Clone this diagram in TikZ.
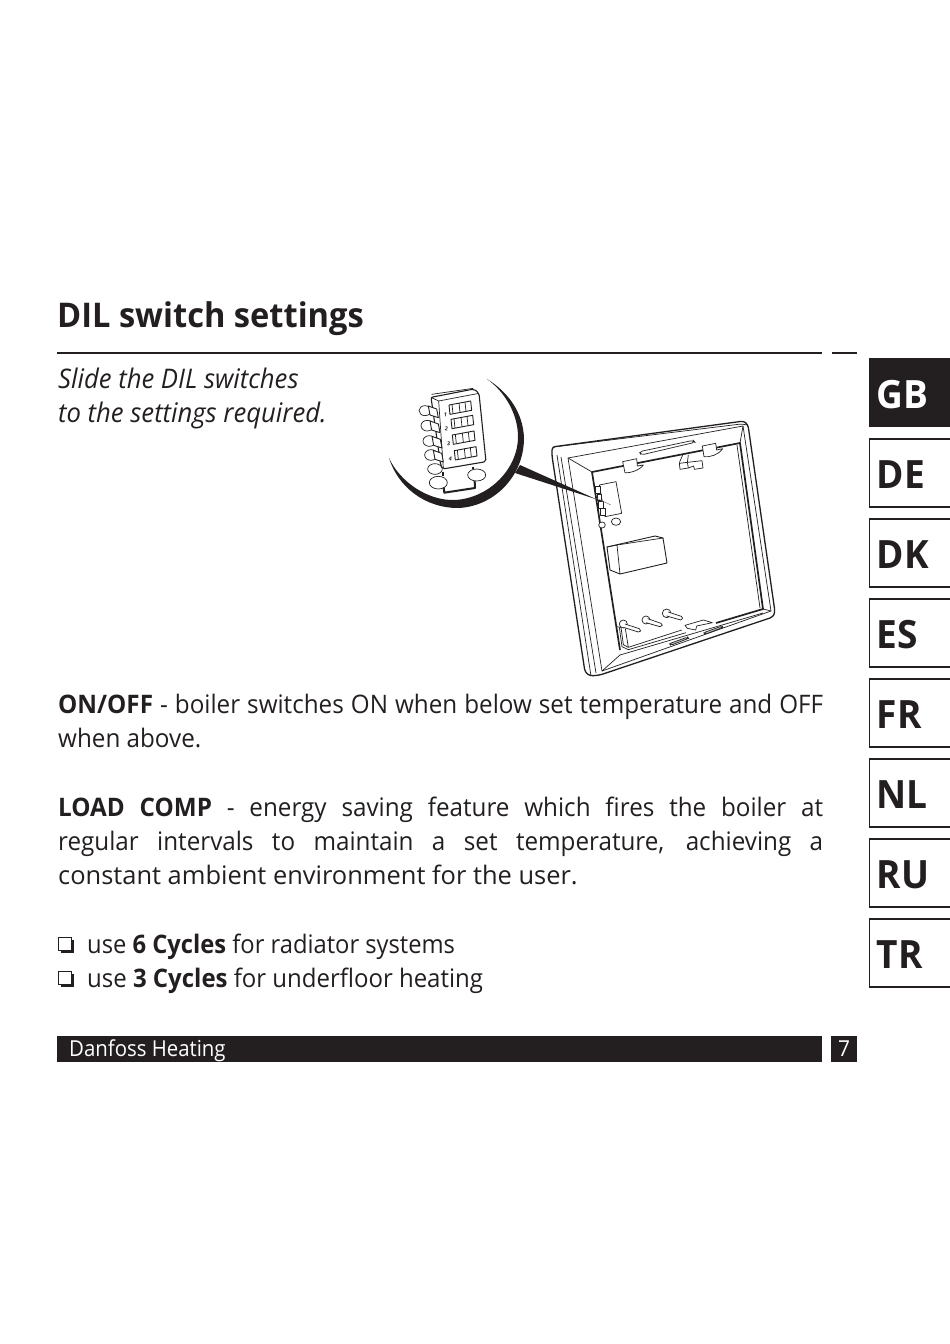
\documentclass[tikz,border=0pt]{standalone}
\usepackage{fontspec}
\usepackage{graphicx}
\setmainfont{Open Sans}[FakeStretch=0.95]
\definecolor{ink}{HTML}{231F20}
\newcommand{\bodyf}{\fontsize{25.5}{30}\selectfont}
\newcommand{\italf}{\fontsize{27}{30}\selectfont\itshape}
\newcommand{\titlef}{\fontsize{34}{38}\selectfont\bfseries}
\newcommand{\tabf}{\fontsize{39}{42}\selectfont\bfseries}
\tikzset{
 txt/.style={anchor=base west,inner sep=0pt,text=ink,font=\bodyf},
 tabtxt/.style={anchor=base west,inner sep=0pt,text=ink,font=\tabf},
 tabbox/.style={draw=ink,line width=1.6pt},
 thinl/.style={draw=ink,line width=0.7pt,line join=round},
 medl/.style={draw=ink,line width=1.3pt,line join=round},
 boldl/.style={draw=ink,line width=1.7pt,line join=round},
 kn/.style={thinl,fill=white}
}
\newcommand{\jline}[1]{\makebox[765pt][s]{#1}}
\newcommand{\chk}[2]{%
 \fill[ink] (#1+2.5,#2+2.5) rectangle (#1+15.5,#2+15.5);
 \filldraw[fill=white,draw=ink,line width=1pt] (#1,#2) rectangle (#1+13,#2+13);}
\newcommand{\langtab}[3]{%
 \draw[tabbox] (950,#1) -- (869.5,#1) -- (869.5,#1+68) -- (950,#1+68);
 \node[tabtxt] (#2) at (876.5,#1+49) {#3};}
\begin{document}
\begin{tikzpicture}[x=1pt,y=-1pt]
\useasboundingbox (0,0) rectangle (950,1344);
\fill[white] (0,0) rectangle (950,1344);
% heading
\node[txt,font=\titlef] (title) at (57,327) {\scalebox{1.01}[1]{DIL switch settings}};
\draw[ink,line width=2pt] (57,352.5) -- (822,352.5);
\draw[ink,line width=2pt] (832,352.5) -- (857,352.5);
\node[txt,font=\italf] (s1) at (58,388) {Slide the DIL switches};
\node[txt,font=\italf] (s2) at (58,422) {to the settings required.};
% body
\node[txt] (p1) at (58,713.5) {\jline{\textbf{ON/OFF} - boiler switches ON when below set temperature and OFF}};
\node[txt] (p2) at (58,747.5) {when above.};
\node[txt] (p3) at (58,816.5) {\jline{\textbf{LOAD COMP} - energy saving feature which fires the boiler at}};
\node[txt] (p4) at (58,850.5) {\jline{regular intervals to maintain a set temperature, achieving a}};
\node[txt] (p5) at (58,884.5) {\scalebox{1.05}[1]{constant ambient environment for the user.}};
\chk{58}{937}
\node[txt] (u1) at (87,953.5) {\scalebox{.98}[1]{use \textbf{6 Cycles} for radiator systems}};
\chk{58}{971}
\node[txt] (u2) at (87,987.5) {\scalebox{.99}[1]{use \textbf{3 Cycles} for underfloor heating}};
% footer
\fill[ink] (57,1036) rectangle (822,1061.5);
\fill[ink] (831,1036) rectangle (857,1061.5);
\node[txt,text=white,font=\fontsize{22}{26}\selectfont] (foot) at (69,1056) {\scalebox{.975}[1]{Danfoss Heating}};
\node[txt,text=white,font=\fontsize{22}{26}\selectfont] (pg) at (838,1056) {7};
% language tabs
\fill[ink] (869,358) rectangle (950,427);
\node[tabtxt,text=white] (gb) at (876.5,408) {GB};
\langtab{439}{de}{DE}
\langtab{519}{dk}{DK}
\langtab{599}{es}{ES}
\langtab{679}{fr}{FR}
\langtab{759}{nl}{NL}
\langtab{839}{ru}{RU}
\langtab{919}{tr}{TR}
% ---------- device
\draw[medl,rounded corners=3pt] (552,447) -- (552,456) -- (585,672) -- (590,676) -- (600,675) -- (773,617) -- (775,612) -- (748,425) -- (744,421) -- cycle;
\draw[thinl] (557,455) -- (591,676);
\draw[thinl] (561,457) -- (596,673);
\draw[thinl,rounded corners=2pt] (553,447) -- (741,424) -- (748,425);
\draw[thinl] (568,458) -- (743,426) -- (771,611) -- (602,671) -- cycle;
% inner opening
\draw[boldl] (592,472) -- (740,443) -- (763,609) -- (716,623);
\draw[boldl] (592,472) -- (620,650);
\draw[thinl] (737,445) -- (760,608);
\draw[thinl] (568,458) -- (592,472);
\draw[thinl] (743,426) -- (740,443);
\draw[thinl] (771,611) -- (763,609);
\draw[thinl] (602,671) -- (620,655);
\draw[thinl] (620,655) -- (763,613);
\begin{scope}[shift={(540,410)},scale=1/3]
 \draw[thinl,rounded corners=3pt] (298,125) -- (460,91) -- (465,97) -- (303,135) -- cycle;
 \draw[kn] (248,155) -- (290,146) -- (292,168) -- (310,165) .. controls (300,180) and (270,190) .. (255,188) -- cycle;
 \draw[kn] (487,108) -- (527,100) -- (530,120) -- (548,116) .. controls (535,135) and (510,142) .. (492,140) -- cycle;
 \draw[thinl] (418,158) -- (428,135) (442,158) -- (445,135);
 \draw[kn] (420,178) -- (418,160) -- (442,157) -- (486,152) -- (489,174) -- (463,178) -- (461,168) -- (445,174) -- cycle;
 \draw[thinl] (442,157) -- (445,174);
 \draw[thinl] (178,225) -- (228,215) -- (245,310) -- (195,320) -- cycle;
 \foreach \i in {0,1,2,3}{\draw[kn,line width=.5pt] (166+\i*5,230+\i*22) rectangle ++(14,20);}
 \draw[kn] (186,345) ellipse (10 and 9);
 \draw[kn] (228,335) ellipse (14 and 11);
\end{scope}
% relay
\draw[kn,line width=0.9pt] (607,547) -- (655,536) -- (663,538) -- (667,563) -- (620,574) -- (610,570) -- cycle;
\draw[thinl] (607,547) -- (617,545) -- (663,538) (617,545) -- (620,574);
\begin{scope}[shift={(560,550)},scale=1/3]
 \draw[kn] (190,222) circle (12);
 \draw[kn] (195,222) -- (238,236) -- (242,243) -- (235,246) -- (190,232);
 \draw[kn] (258,210) circle (12);
 \draw[kn] (263,206) -- (303,220) -- (307,226) -- (300,230) -- (258,218);
 \draw[kn] (320,190) circle (13);
 \draw[kn] (325,186) -- (364,199) -- (368,205) -- (362,210) -- (320,198);
 \draw[thinl] (170,230) -- (183,232) -- (190,284) -- (205,292) -- (365,240);
 \draw[thinl] (178,232) -- (186,290) -- (205,299) -- (378,248);
 \draw[thinl] (205,292) -- (196,236);
 \draw[kn] (375,226) -- (430,210) -- (457,218) -- (410,228) -- (407,240) -- (382,235) -- cycle;
 \draw[thinl,fill=black!25,rounded corners=2pt] (328,281) -- (383,261) -- (386,265) -- (332,286) -- cycle;
 \draw[thinl,fill=black!25,rounded corners=2pt] (431,248) -- (486,228) -- (489,232) -- (435,253) -- cycle;
\end{scope}
% ---------- magnifier
\fill[ink] (487,379) .. controls (508,392) and (523,412) .. (524,438) .. controls (524,478) and (492,507) .. (458,508) .. controls (425,508) and (398,487) .. (389,458) .. controls (400,482) and (428,501) .. (455,500) .. controls (490,498) and (518,468) .. (518,437) .. controls (518,414) and (505,392) .. (487,379) -- cycle;
\fill[ink] (520,465) -- (515,473) -- (597,499.5) -- cycle;
\draw[ink!70,line width=.4pt] (596,498) -- (611,505);
\begin{scope}[shift={(380,365)},scale=1/3]
 \foreach \cx/\cy/\rx/\ry in {135/137/18/15,142/182/19/16,148/228/19/16,153/270/19/16,165/312/22/16,175/353/27/19,290/330/27/18}{
  \draw[kn] (\cx,\cy) ellipse (\rx pt and \ry pt);}
 \draw[thinl] (155,88) -- (280,70);
 \draw[kn,line width=1.1pt,rounded corners=2pt] (153,97) -- (282,72) -- (297,85) -- (318,290) -- (188,312) -- (182,300) -- cycle;
 \draw[thinl] (176,108) -- (297,85) (176,108) -- (190,310);
 \draw[thinl] (153,97) -- (176,108);
 \foreach \dx/\dy in {0/0,5/45,11/91,15/133}{
  \draw[kn,line width=.9pt] (145+\dx,123+\dy) -- (170+\dx,132+\dy) -- (175+\dx,158+\dy) -- (150+\dx,150+\dy) -- cycle;}
 \foreach \x/\y in {207/120,213/163,217/210,223/257}{
  \begin{scope}[shift={(\x,\y)}]
   \draw[thinl,line width=.9pt] (0,0) -- (65,-12) -- (68,16) -- (3,28) -- cycle;
   \draw[thinl] (9,-2) -- (12,26) (30,-6) -- (33,22) (48,-9) -- (51,19);
  \end{scope}}
 \node[inner sep=0,text=ink,font=\fontsize{5.5}{6}\selectfont\bfseries,rotate=-10] (n1) at (196,150) {1};
 \node[inner sep=0,text=ink,font=\fontsize{5.5}{6}\selectfont\bfseries,rotate=-10] (n2) at (199,190) {2};
 \node[inner sep=0,text=ink,font=\fontsize{5.5}{6}\selectfont\bfseries,rotate=-10] (n3) at (206,235) {3};
 \node[inner sep=0,text=ink,font=\fontsize{5.5}{6}\selectfont\bfseries,rotate=-10] (n4) at (211,281) {4};
 \draw[ink,line width=1.8pt] (190,322) -- (190,332);
 \draw[ink,line width=1.8pt] (280,305) -- (280,312);
 \draw[ink,line width=2pt,line join=round] (191,368) -- (193,383) -- (285,369) -- (284,348);
\end{scope}
\end{tikzpicture}
\end{document}
